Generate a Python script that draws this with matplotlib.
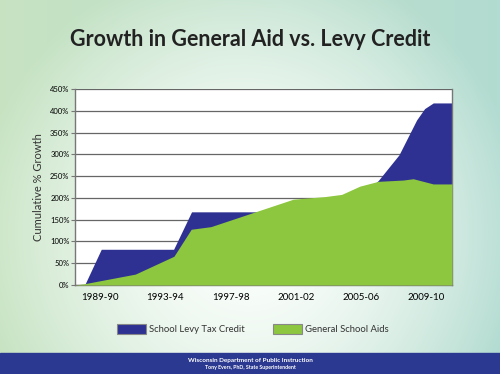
import numpy as np
import matplotlib
matplotlib.use("Agg")
import matplotlib.pyplot as plt
from matplotlib.patches import Rectangle

# ---- data (x in school-year units, values in cumulative % growth) ----
levy_x = [1987.45, 1988.04, 1989.06, 1993.50, 1994.60, 2004.00, 2006.06, 2007.33, 2008.41, 2008.90, 2009.43, 2010.58]
levy_y = [0, 0, 82, 82, 168, 168, 240, 299, 379, 405, 418, 418]

aid_x = [1987.45, 1988.04, 1991.15, 1993.52, 1994.58, 1995.79, 2000.84, 2002.79, 2003.81, 2004.93, 2006.06, 2007.59, 2008.20, 2009.43, 2010.58]
aid_y = [0, 3, 25, 66, 128, 134, 197, 203, 208, 227, 238, 241, 244, 232, 232]

tick_years = [1989, 1993, 1997, 2001, 2005, 2009]
tick_labels = ["1989-90", "1993-94", "1997-98", "2001-02", "2005-06", "2009-10"]
y_ticks = [0, 50, 100, 150, 200, 250, 300, 350, 400, 450]

series_names = ["School Levy Tax Credit", "General School Aids"]
blue = "#2E3192"
green = "#8DC63F"

plt.rcParams['font.family'] = ['Lato', 'DejaVu Sans']

fig = plt.figure(figsize=(5.0, 3.74), dpi=100)

# background gradient
bg = fig.add_axes([0, 0, 1, 1], zorder=-10)
H, W = 374, 500
yy, xx = np.mgrid[0:H, 0:W]
xn = xx / W
yn = yy / H
d = np.sqrt(((xn - 0.5) / 0.55) ** 2 + ((yn - 0.62) / 0.75) ** 2)
t = np.clip(d, 0, 1) ** 1.6
left_col = np.array([0.78, 0.89, 0.76])
right_col = np.array([0.70, 0.86, 0.82])
mix = np.clip(xn, 0, 1)[..., None]
edge = left_col * (1 - mix) + right_col * mix
white = np.array([0.99, 1.0, 0.99])
img = white * (1 - t[..., None]) + edge * t[..., None]
bg.imshow(img, aspect='auto', extent=[0, 1, 0, 1], origin='upper')
bg.set_xlim(0, 1)
bg.set_ylim(0, 1)
bg.axis('off')

# footer band
bg.add_patch(Rectangle((0, 0), 1, 21 / 374, color="#2B3990", zorder=2))
bg.text(0.5, 13.5 / 374, "Wisconsin Department of Public Instruction", ha='center', va='center',
        color='white', fontsize=4.6, fontweight='bold', zorder=3)
bg.text(0.5, 6 / 374, "Tony Evers, PhD, State Superintendent", ha='center', va='center',
        color='white', fontsize=3.8, fontweight='bold', zorder=3)

# title
fig.text(0.5, 1 - 40 / 374, "Growth in General Aid vs. Levy Credit", ha='center', va='center',
         fontsize=15.5, fontweight='bold', color='#222222')

ax = fig.add_axes([75 / 500, 1 - 285 / 374, 377 / 500, 196 / 374])
ax.set_facecolor('white')
ax.fill_between(levy_x, levy_y, 0, color=blue, lw=0, zorder=2, label=series_names[0])
ax.fill_between(aid_x, aid_y, 0, color=green, lw=0, zorder=3, label=series_names[1])
ax.set_xlim(1987.45, 2010.58)
ax.set_ylim(0, 450)
ax.set_yticks(y_ticks)
ax.set_yticklabels([f"{v}%" for v in y_ticks], fontsize=5.5)
ax.set_xticks(tick_years)
ax.set_xticklabels(tick_labels, fontsize=7)
ax.yaxis.grid(True, color='#666666', lw=0.9, zorder=1)
ax.set_axisbelow(True)
for s in ax.spines.values():
    s.set_color('#777777')
    s.set_linewidth(1.0)
ax.spines['top'].set_visible(False)
ax.tick_params(axis='y', length=3, width=0.8, color='#777777', pad=1)
ax.tick_params(axis='x', length=0, pad=6)
ax.set_ylabel("Cumulative % Growth", fontsize=8, color='#333333', labelpad=4)

# legend: two entries placed separately
handles = [Rectangle((0, 0), 1, 1, facecolor=blue, edgecolor='#888888', lw=0.8),
           Rectangle((0, 0), 1, 1, facecolor=green, edgecolor='#888888', lw=0.8)]
for h, name, x0 in zip(handles, series_names, [117 / 500, 273 / 500]):
    leg = fig.legend(handles=[h], labels=[name], loc='center left',
                     bbox_to_anchor=(x0, 1 - 329 / 374), frameon=False, fontsize=6.8,
                     handlelength=3.1, handleheight=1.25, handletextpad=0.3,
                     borderpad=0, borderaxespad=0, labelcolor='#333333')

fig.savefig("out.png", dpi=100)
